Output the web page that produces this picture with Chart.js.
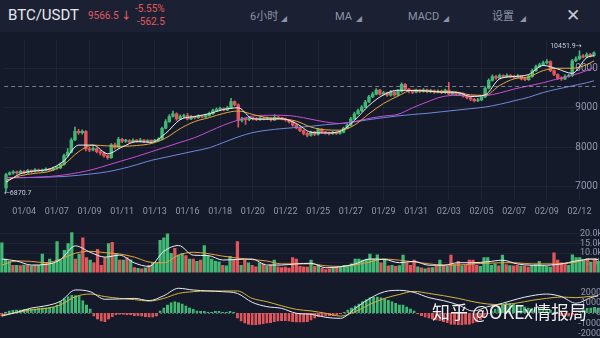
<!DOCTYPE html>
<html>
<head>
<meta charset="utf-8">
<title>BTC/USDT 6小时</title>
<script src="https://cdn.jsdelivr.net/npm/chart.js@4.4.1/dist/chart.umd.min.js"></script>
<style>
  html, body { margin: 0; padding: 0; }
  body { width: 600px; height: 338px; overflow: hidden; position: relative; background: #151a2b;
         font-family: Roboto, "Noto Sans", "Noto Sans CJK SC", sans-serif; }
  .head { position: absolute; left: 0; top: 0; width: 600px; height: 32px; background: #1b2033; }
  .head span { position: absolute; white-space: nowrap; line-height: 1; }
  .pair { left: 8px; top: 8px; font-size: 15px; color: #e6e8ee; }
  .red { color: #e05a5f; font-size: 10px; }
  .menu { font-size: 11px; color: #8d93a8; top: 11px; }
  .tri { font-size: 6px; color: #8d93a8; top: 16px; }
  .close { left: 566px; top: 7px; font-size: 17px; color: #c6c9d3; font-family: "DejaVu Sans", sans-serif; }
  canvas { position: absolute; left: 0; }
  #main { top: 32px; }
  #vol { top: 222px; }
  #macd { top: 282px; }
  .mark { position: absolute; left: 432px; top: 302px; font-size: 18px; color: rgba(255,255,255,0.93);
          font-family: "Noto Sans CJK SC", "Noto Sans", sans-serif; white-space: nowrap; line-height: 1;
          text-shadow: 0 0 2px rgba(0,0,0,0.5); }
</style>
</head>
<body>
<div class="head">
  <span class="pair">BTC/USDT</span>
  <span class="red" style="left:88px;top:11px;">9566.5 <b>↓</b></span>
  <span class="red" style="left:135px;top:4px;">-5.55%</span>
  <span class="red" style="left:137px;top:17px;">-562.5</span>
  <span class="menu" style="left:250px;">6小时</span><span class="tri" style="left:281px;">◢</span>
  <span class="menu" style="left:335px;">MA</span><span class="tri" style="left:356px;">◢</span>
  <span class="menu" style="left:408px;">MACD</span><span class="tri" style="left:443px;">◢</span>
  <span class="menu" style="left:492px;">设置</span><span class="tri" style="left:520px;">◢</span>
  <span class="close">✕</span>
</div>
<canvas id="main" width="600" height="188"></canvas>
<canvas id="vol" width="600" height="58"></canvas>
<canvas id="macd" width="600" height="56"></canvas>
<div class="mark">知乎 @OKEx情报局</div>
<script>
// 6h candles, 01/03 12:00 .. 02/13
const dateTicks = ['01/04', '01/07', '01/09', '01/11', '01/13', '01/16', '01/18', '01/20', '01/22',
  '01/25', '01/27', '01/29', '01/31', '02/03', '02/05', '02/07', '02/09', '02/12'];
const priceTicks = [7000, 8000, 9000, 10000];
const volTicks = [5000, 10000, 15000, 20000];
const macdTicks = [-2000, -1000, 0, 1000, 2000];
const lastPrice = 9566.5;

const opens = [6960, 7300, 7340, 7370, 7340,
  7380, 7350, 7400, 7380, 7420, 7390, 7410, 7440, 7420,
  7460, 7470, 7560, 7780, 7870, 8180, 8400, 8370, 8400,
  7950, 7930, 7960, 7880, 7850, 7780, 7730, 8060, 7990,
  8200, 8150, 8160, 8130, 8170, 8150, 8180, 8140, 8160,
  8150, 8160, 8200, 8480, 8650, 8780, 8850, 8720, 8780,
  8800, 8720, 8760, 8750, 8790, 8770, 8800, 8850, 8930,
  8960, 8980, 8950, 9000, 9160, 9080, 8680, 8720, 8700,
  8740, 8720, 8700, 8740, 8710, 8730, 8690, 8760, 8740,
  8720, 8690, 8640, 8560, 8490, 8420, 8350, 8300, 8380,
  8320, 8450, 8380, 8360, 8340, 8370, 8350, 8380, 8480,
  8560, 8720, 8850, 8930, 9020, 9150, 9280, 9350, 9450,
  9350, 9380, 9320, 9400, 9330, 9420, 9600, 9480, 9430,
  9400, 9450, 9420, 9460, 9410, 9440, 9400, 9430, 9390,
  9450, 9350, 9380, 9340, 9360, 9300, 9260, 9220, 9180,
  9200, 9280, 9500, 9700, 9800, 9760, 9820, 9790, 9830,
  9800, 9780, 9810, 9740, 9720, 9800, 9950, 10050, 10100,
  10150, 10180, 9950, 9850, 9760, 9740, 9800, 9820, 10200,
  10250, 10320, 10300, 10360, 10330];
const closes = [7300, 7340, 7370, 7340, 7380,
  7350, 7400, 7380, 7420, 7390, 7410, 7440, 7420, 7460,
  7470, 7560, 7780, 7870, 8180, 8400, 8370, 8400, 7950,
  7930, 7960, 7880, 7850, 7780, 7730, 8060, 7990, 8200,
  8150, 8160, 8130, 8170, 8150, 8180, 8140, 8160, 8150,
  8160, 8200, 8480, 8650, 8780, 8850, 8720, 8780, 8800,
  8720, 8760, 8750, 8790, 8770, 8800, 8850, 8930, 8960,
  8980, 8950, 9000, 9160, 9080, 8680, 8720, 8700, 8740,
  8720, 8700, 8740, 8710, 8730, 8690, 8760, 8740, 8720,
  8690, 8640, 8560, 8490, 8420, 8350, 8300, 8380, 8320,
  8450, 8380, 8360, 8340, 8370, 8350, 8380, 8480, 8560,
  8720, 8850, 8930, 9020, 9150, 9280, 9350, 9450, 9350,
  9380, 9320, 9400, 9330, 9420, 9600, 9480, 9430, 9400,
  9450, 9420, 9460, 9410, 9440, 9400, 9430, 9390, 9450,
  9350, 9380, 9340, 9360, 9300, 9260, 9220, 9180, 9200,
  9280, 9500, 9700, 9800, 9760, 9820, 9790, 9830, 9800,
  9780, 9810, 9740, 9720, 9800, 9950, 10050, 10100, 10150,
  10180, 9950, 9850, 9760, 9740, 9800, 9820, 10200, 10250,
  10320, 10300, 10360, 10330, 10400];
const highs = [7330, 7370, 7400, 7390, 7410,
  7400, 7430, 7420, 7450, 7440, 7440, 7470, 7460, 7490,
  7510, 7600, 7820, 7960, 8230, 8510, 8450, 8440, 8420,
  8000, 8010, 7980, 7920, 7870, 7800, 8090, 8100, 8250,
  8220, 8200, 8190, 8210, 8190, 8220, 8200, 8190, 8180,
  8200, 8240, 8510, 8700, 8830, 8920, 8870, 8820, 8840,
  8860, 8800, 8790, 8820, 8810, 8840, 8890, 8970, 9000,
  9020, 9000, 9040, 9240, 9180, 9100, 8760, 8740, 8780,
  8760, 8750, 8770, 8760, 8770, 8750, 8830, 8780, 8760,
  8740, 8710, 8660, 8580, 8510, 8440, 8380, 8410, 8400,
  8480, 8470, 8400, 8380, 8400, 8390, 8410, 8510, 8600,
  8760, 8890, 8970, 9060, 9190, 9320, 9400, 9490, 9470,
  9420, 9400, 9440, 9420, 9460, 9640, 9620, 9500, 9450,
  9480, 9470, 9490, 9480, 9470, 9460, 9460, 9450, 9480,
  9650, 9420, 9400, 9390, 9380, 9320, 9280, 9240, 9240,
  9320, 9540, 9740, 9840, 9830, 9860, 9840, 9870, 9850,
  9830, 9850, 9830, 9770, 9840, 9990, 10090, 10140, 10190,
  10230, 10200, 9970, 9870, 9790, 9840, 9860, 10240, 10300,
  10451.9, 10360, 10400, 10390, 10430];
const lows = [6870.7, 7280, 7310, 7310, 7320,
  7320, 7330, 7350, 7360, 7370, 7370, 7390, 7400, 7400,
  7430, 7450, 7540, 7750, 7850, 8160, 8320, 8330, 7900,
  7880, 7900, 7850, 7800, 7740, 7690, 7710, 7950, 7970,
  8110, 8120, 8100, 8110, 8120, 8130, 8110, 8120, 8120,
  8130, 8140, 8180, 8460, 8630, 8760, 8680, 8700, 8750,
  8690, 8700, 8720, 8730, 8740, 8750, 8780, 8830, 8900,
  8930, 8920, 8930, 8980, 9050, 8510, 8640, 8580, 8670,
  8690, 8670, 8680, 8690, 8700, 8660, 8670, 8710, 8690,
  8660, 8610, 8530, 8460, 8390, 8310, 8260, 8280, 8290,
  8300, 8350, 8330, 8310, 8320, 8320, 8330, 8360, 8460,
  8540, 8700, 8830, 8900, 9000, 9130, 9260, 9330, 9320,
  9320, 9290, 9300, 9300, 9310, 9400, 9450, 9380, 9360,
  9380, 9390, 9400, 9380, 9390, 9370, 9380, 9360, 9370,
  9330, 9330, 9310, 9320, 9270, 9230, 9180, 9150, 9160,
  9180, 9260, 9480, 9680, 9730, 9740, 9760, 9770, 9770,
  9750, 9760, 9710, 9690, 9700, 9780, 9930, 10030, 10080,
  10120, 9920, 9820, 9720, 9700, 9720, 9780, 9800, 10180,
  10230, 10270, 10280, 10300, 10310];
const volumes = [15400, 7000, 5800, 3800, 3800,
  3600, 3900, 3700, 3500, 3800, 3700, 9600, 5100, 7000,
  5100, 16000, 6400, 11500, 15000, 20700, 7000, 9500, 18000,
  7700, 6400, 5100, 12000, 3800, 7700, 15000, 15600, 10000,
  6400, 6400, 7700, 6600, 2600, 2200, 2000, 2400, 3800,
  5100, 5000, 16700, 17900, 20000, 10000, 12500, 9000, 10000,
  8800, 7000, 7000, 5800, 6400, 14000, 8400, 7000, 6000,
  5500, 3800, 3500, 8400, 7000, 16000, 3800, 6400, 5100,
  3800, 3000, 5100, 4500, 3200, 4000, 6400, 3000, 2600,
  2800, 2300, 7700, 7000, 3200, 3000, 2800, 6400, 3200,
  3800, 2200, 1600, 2000, 2400, 3000, 3200, 3800, 3500,
  4500, 7000, 7000, 6400, 7000, 9600, 7000, 9200, 5100,
  7000, 3500, 3800, 3200, 3600, 9000, 5100, 3800, 6400,
  3000, 2400, 2000, 2400, 2600, 3200, 6400, 3800, 3200,
  9000, 4200, 5800, 3500, 3800, 6400, 6400, 3800, 3200,
  7700, 7700, 3800, 4500, 3500, 9000, 4200, 3600, 3500,
  3800, 3400, 3400, 2800, 3800, 4200, 5800, 3800, 3200,
  2800, 10200, 6400, 5100, 4200, 3800, 9200, 7700, 7700,
  6400, 7000, 5400, 6400, 5800];
const macdHist = [-300, 100, 200, 250, 300,
  300, 350, 350, 400, 400, 450, 500, 500, 550,
  550, 800, 1100, 1400, 1600, 1750, 1700, 1650, 1200,
  800, 400, -300, -600, -800, -850, -600, -350, -200,
  -150, -150, -200, -200, -250, -250, -300, -350, -400,
  -400, -300, 200, 500, 800, 1000, 1100, 1000, 900,
  700, 500, 350, 200, 150, 150, 100, 100, 150,
  150, 100, 100, 150, 100, -500, -800, -1000, -1100,
  -1150, -1150, -1100, -1050, -1000, -950, -850, -800, -750,
  -750, -800, -850, -900, -900, -900, -850, -700, -500,
  -350, -300, -300, -250, -250, -200, -100, 100, 300,
  500, 700, 900, 1100, 1300, 1500, 1550, 1580, 1500,
  1400, 1250, 1100, 950, 800, 800, 600, 400, 200,
  -100, -250, -400, -500, -600, -700, -750, -850, -950,
  -1100, -1100, -1150, -1150, -1100, -1100, -1000, -900, -700,
  -400, -100, 200, 400, 600, 800, 950, 950, 900,
  800, 700, 600, 500, 450, 500, 550, 500, 400,
  250, 100, -100, -250, -300, -300, -200, -100, 100,
  300, 450, 500, 550, 500];

// indicator lines every 4th candle (last one at the final candle)
const lineIdx = Array.from({ length: 41 }, (_, k) => k * 4).concat([162]);
const ma5 = [7100, 7320, 7390, 7440, 7650, 8050, 8050, 7830, 8000, 8140, 8120, 8350, 8700, 8780,
  8850, 8960, 9000, 8720, 8710, 8720, 8600, 8380, 8360, 8400, 8680, 9060, 9330, 9450,
  9440, 9430, 9400, 9400, 9290, 9330, 9740, 9800, 9850, 10080, 9990, 9880, 10280, 10330];
const ma10 = [7150, 7270, 7330, 7380, 7560, 7880, 8050, 8030, 8020, 8040, 8090, 8230, 8470, 8650,
  8750, 8860, 8920, 8830, 8750, 8720, 8660, 8510, 8440, 8430, 8560, 8850, 9110, 9300,
  9450, 9430, 9410, 9400, 9330, 9320, 9570, 9740, 9790, 9950, 10010, 10010, 10100, 10200];
const ma30 = [7220, 7220, 7230, 7250, 7290, 7350, 7430, 7540, 7650, 7760, 7880, 8000, 8120, 8240,
  8400, 8560, 8690, 8790, 8810, 8810, 8780, 8710, 8640, 8600, 8650, 8730, 8790, 8835,
  9000, 9150, 9280, 9320, 9300, 9310, 9380, 9480, 9560, 9640, 9740, 9830, 9950, 10030];
const ma60 = [7220, 7220, 7225, 7235, 7250, 7280, 7320, 7370, 7450, 7550, 7660, 7740, 7820, 7900,
  7980, 8120, 8260, 8370, 8430, 8470, 8500, 8530, 8570, 8600, 8640, 8700, 8750, 8795,
  8830, 8860, 8900, 8940, 8980, 9020, 9090, 9180, 9270, 9390, 9480, 9560, 9640, 9690];
const volMa5 = [7000, 6000, 3900, 4200, 6800, 13800, 10500, 8000, 9000, 5000, 3200, 11000, 14000, 9000,
  8800, 6500, 6800, 7000, 3900, 3900, 4500, 4800, 2500, 3000, 4500, 7000, 6800, 5100,
  5800, 3800, 3800, 5100, 5100, 5600, 6400, 4500, 3800, 3800, 4500, 6000, 7000, 6800];
const volMa10 = [3900, 6000, 5800, 5100, 7000, 10000, 11000, 10300, 9600, 8000, 5500, 5100, 9000, 10500,
  9800, 8500, 7500, 6700, 6000, 4500, 4500, 4500, 3500, 3200, 4000, 5500, 7000, 6400,
  5500, 4500, 3900, 3900, 4500, 4800, 5100, 5000, 4500, 4500, 4500, 5500, 7000, 6700];
const dif = [-300, 60, 480, 700, 1150, 2240, 2070, 1330, 1360, 1420, 1200, 1680, 2400, 2230,
  2140, 2070, 1900, 1040, 615, 450, -30, -130, -420, -520, 450, 1420, 2070, 2200,
  2000, 1490, 1200, 780, 190, 615, 940, 1360, 1680, 1840, 1590, 940, 1490, 1680];
const dea = [-190, 40, 300, 450, 800, 1590, 1840, 1590, 1420, 1300, 1160, 1420, 1900, 2070,
  2140, 2140, 2140, 1420, 1100, 700, 350, 200, -30, -300, 130, 840, 1420, 1800,
  2100, 1900, 1680, 1420, 1100, 870, 810, 970, 1230, 1420, 1550, 1490, 1620, 1680];

const GREEN = '#41b873';
const RED = '#e0575c';
const AXIS_TEXT = '#9297ab';
const N = closes.length;
const labels = closes.map((_, i) => i);
const candleColor = closes.map((c, i) => (c >= opens[i] ? GREEN : RED));

function onCandles(vals) {
  const out = new Array(N).fill(null);
  lineIdx.forEach((ix, k) => { out[ix] = vals[k]; });
  return out;
}

function lineSet(vals, color, order) {
  return { type: 'line', data: onCandles(vals), borderColor: color, borderWidth: 1, pointRadius: 0,
    spanGaps: true, cubicInterpolationMode: 'monotone', order: order };
}

function rightAxis(min, max, ticks, fmt, size) {
  return {
    position: 'right', min: min, max: max,
    afterFit: s => { s.width = 0; },
    afterBuildTicks: s => { s.ticks = ticks.map(v => ({ value: v })); },
    grid: { color: 'rgba(255,255,255,0.05)', drawTicks: false },
    border: { display: false },
    ticks: { mirror: true, autoSkip: false, padding: 2, color: AXIS_TEXT,
      font: { size: size || 9, family: 'Roboto' }, callback: fmt || (v => String(v)) }
  };
}

const base = {
  responsive: false, animation: false, devicePixelRatio: 1,
  layout: { padding: 0 },
  plugins: { legend: { display: false }, tooltip: { enabled: false } }
};

const priceMarks = {
  id: 'priceMarks',
  afterDatasetsDraw(chart) {
    const { ctx, chartArea, scales: { x, y } } = chart;
    ctx.save();
    const py = Math.round(y.getPixelForValue(lastPrice)) + 0.5;
    ctx.strokeStyle = 'rgba(185,190,205,0.6)';
    ctx.lineWidth = 1;
    ctx.setLineDash([4, 3]);
    ctx.beginPath();
    ctx.moveTo(chartArea.left, py);
    ctx.lineTo(chartArea.right, py);
    ctx.stroke();
    ctx.setLineDash([]);
    ctx.font = '7px Roboto, "DejaVu Sans", sans-serif';
    ctx.fillStyle = '#c9ccd8';
    ctx.textBaseline = 'middle';
    const lo = Math.min(...lows);
    const li = lows.indexOf(lo);
    ctx.textAlign = 'left';
    ctx.fillText('←' + lo.toFixed(1), x.getPixelForValue(li) - 2, y.getPixelForValue(lo) + 2);
    const hi = Math.max(...highs);
    const hiIx = highs.indexOf(hi);
    ctx.textAlign = 'right';
    ctx.fillText(hi.toFixed(1) + '→', x.getPixelForValue(hiIx) + 2, y.getPixelForValue(hi) - 5);
    ctx.restore();
  }
};

new Chart(document.getElementById('main'), {
  type: 'bar',
  data: {
    labels: labels,
    datasets: [
      lineSet(ma5, '#eef0f5', 0),
      lineSet(ma10, '#e8a93a', 1),
      lineSet(ma30, '#c54fd6', 2),
      lineSet(ma60, '#7088dc', 3),
      { type: 'bar', data: opens.map((o, i) => [o, closes[i]]), backgroundColor: candleColor,
        barThickness: 2.8, minBarLength: 1, grouped: false, order: 5 },
      { type: 'bar', data: lows.map((l, i) => [l, highs[i]]), backgroundColor: candleColor,
        barThickness: 1, grouped: false, order: 6 }
    ]
  },
  options: Object.assign({}, base, {
    scales: {
      x: {
        offset: true,
        grid: { offset: false, drawTicks: false,
          color: c => ((c.index - 5) % 9 === 0 ? 'rgba(255,255,255,0.045)' : 'rgba(0,0,0,0)') },
        border: { display: false },
        ticks: { autoSkip: false, maxRotation: 0, padding: 6, color: AXIS_TEXT,
          font: { size: 9, family: 'Roboto' },
          callback: (v, i) => ((i - 5) % 9 === 0 ? dateTicks[(i - 5) / 9] : '') },
        afterFit: s => { s.height = 20; }
      },
      y: rightAxis(6650, 10730, priceTicks, null, 10)
    }
  }),
  plugins: [priceMarks]
});

new Chart(document.getElementById('vol'), {
  type: 'bar',
  data: {
    labels: labels,
    datasets: [
      lineSet(volMa5, '#eef0f5', 0),
      lineSet(volMa10, '#e8a33a', 1),
      { type: 'bar', data: volumes, backgroundColor: candleColor, barThickness: 2.6, order: 5 }
    ]
  },
  options: Object.assign({}, base, {
    scales: {
      x: { display: false, offset: true },
      y: rightAxis(0, 22300, volTicks, v => (v / 1000).toFixed(1) + 'k')
    }
  })
});

// zero line and the axis numbers of the MACD pane, placed with the y scale
const macdAxisMarks = {
  id: 'macdAxisMarks',
  beforeDatasetsDraw(chart) {
    const { ctx, chartArea, scales: { y } } = chart;
    const zy = Math.round(y.getPixelForValue(0)) + 0.5;
    ctx.save();
    ctx.strokeStyle = 'rgba(150,155,172,0.55)';
    ctx.setLineDash([2, 2]);
    ctx.beginPath();
    ctx.moveTo(chartArea.left, zy);
    ctx.lineTo(chartArea.right, zy);
    ctx.stroke();
    ctx.restore();
  },
  afterDraw(chart) {
    const { ctx, chartArea, scales: { y } } = chart;
    ctx.save();
    ctx.font = '9px Roboto';
    ctx.fillStyle = AXIS_TEXT;
    ctx.textAlign = 'right';
    ctx.textBaseline = 'middle';
    macdTicks.forEach(v => ctx.fillText(String(v), chartArea.right + 1, y.getPixelForValue(v)));
    ctx.restore();
  }
};

// small bars are drawn hollow, as in the app
const histColor = macdHist.map(v => (v >= 0 ? GREEN : RED));
const histFill = macdHist.map((v, i) => (Math.abs(v) <= 550 ? 'rgba(0,0,0,0)' : histColor[i]));

new Chart(document.getElementById('macd'), {
  type: 'bar',
  data: {
    labels: labels,
    datasets: [
      lineSet(dif, '#e9ebf2', 0),
      lineSet(dea, '#d4b43c', 1),
      { type: 'bar', data: macdHist, backgroundColor: histFill, borderColor: histColor,
        borderWidth: 0.8, barThickness: 2.4, order: 5 }
    ]
  },
  options: Object.assign({}, base, {
    scales: {
      x: { display: false, offset: true },
      y: { display: false, min: -2430, max: 3010 }
    }
  }),
  plugins: [macdAxisMarks]
});
</script>
</body>
</html>
